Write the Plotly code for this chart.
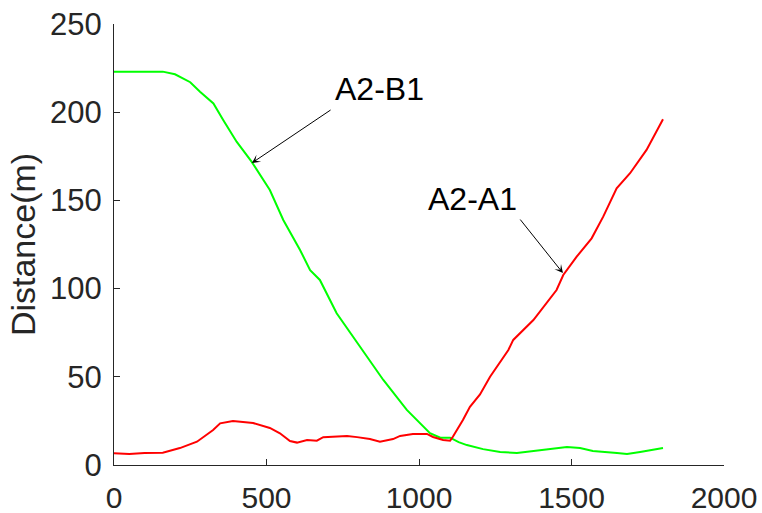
import plotly.graph_objects as go

# A2-B1 (green)
b1_t = [0, 100, 160, 200, 250, 282, 326, 358, 402, 451, 511, 555, 610, 643, 675, 730,
        807, 883, 960, 1036, 1070, 1102, 1130, 1157, 1210, 1266, 1321, 1397, 1485,
        1528, 1570, 1649, 1682, 1725, 1767, 1790, 1800]
b1_d = [223, 223, 223, 221.5, 217, 211.6, 205, 195.6, 183.3, 172, 155.9, 138.9, 121.9,
        110.5, 104.9, 86, 67.1, 48.2, 31.2, 18, 15.5, 15.5, 13, 11.3, 9, 7.4, 6.8, 8.5,
        10.2, 9.6, 7.9, 6.8, 6.2, 7.4, 8.5, 9.3, 9.6]

# A2-A1 (red)
a1_t = [0, 50, 100, 160, 216, 272, 325, 348, 390, 456, 511, 544, 577, 600, 633, 665, 686,
        764, 797, 839, 872, 915, 938, 980, 1026, 1046, 1079, 1102, 1111, 1144, 1167, 1200,
        1233, 1293, 1309, 1375, 1451, 1473, 1517, 1566, 1604, 1648, 1692, 1746, 1800]
a1_d = [6.6, 6.2, 6.8, 7, 9.6, 13.2, 19.8, 23.6, 25, 23.8, 21, 18, 13.6, 12.7, 14.2, 13.8,
        15.8, 16.5, 15.8, 14.7, 13.2, 14.7, 16.5, 17.6, 17.6, 15.9, 14.2, 13.8, 16, 25.5,
        33, 40, 50, 65.2, 70.9, 82.2, 99.2, 107.7, 118.1, 128.5, 140.8, 156.9, 165.4,
        178.6, 196]

x_ticks = [0, 500, 1000, 1500, 2000]
y_ticks = [0, 50, 100, 150, 200, 250]

fig = go.Figure()
fig.add_trace(go.Scatter(x=b1_t, y=b1_d, mode="lines", line=dict(color="#00ff00", width=2),
                         name="A2-B1", showlegend=False))
fig.add_trace(go.Scatter(x=a1_t, y=a1_d, mode="lines", line=dict(color="#ff0000", width=2),
                         name="A2-A1", showlegend=False))

font = "Liberation Sans, Arial, sans-serif"
axcol = "#262626"

# arrows
fig.add_annotation(x=452, y=171.2, ax=715, ay=201.8, xref="x", yref="y", axref="x", ayref="y",
                   text="", showarrow=True, arrowhead=3, arrowsize=1.4, arrowwidth=1,
                   arrowcolor="black")
fig.add_annotation(x=1472, y=108.8, ax=1328, ay=140, xref="x", yref="y", axref="x", ayref="y",
                   text="", showarrow=True, arrowhead=3, arrowsize=1.4, arrowwidth=1,
                   arrowcolor="black")
# labels
fig.add_annotation(x=872, y=213, xref="x", yref="y", text="A2-B1", showarrow=False,
                   font=dict(family=font, size=32, color="black"))
fig.add_annotation(x=1174, y=150.8, xref="x", yref="y", text="A2-A1", showarrow=False,
                   font=dict(family=font, size=32, color="black"))

fig.update_layout(
    width=762, height=513,
    margin=dict(l=114, r=38, t=24, b=48),
    plot_bgcolor="white", paper_bgcolor="white",
    font=dict(family=font, color=axcol),
)
fig.update_xaxes(range=[0, 2000], tickvals=x_ticks, ticktext=[str(v) for v in x_ticks],
                 showgrid=False, zeroline=False, showline=True, linecolor=axcol, linewidth=1,
                 ticks="inside", ticklen=6, tickcolor=axcol, tickfont=dict(size=30, color=axcol),
                 ticklabelstandoff=6, automargin=False, mirror=False)
fig.update_yaxes(range=[0, 250], tickvals=y_ticks, ticktext=[str(v) for v in y_ticks],
                 showgrid=False, zeroline=False, showline=True, linecolor=axcol, linewidth=1,
                 ticks="inside", ticklen=6, tickcolor=axcol, tickfont=dict(size=31, color=axcol),
                 ticklabelstandoff=5, automargin=False,
                 title=dict(text="Distance(m)", font=dict(size=34, color=axcol), standoff=4),
                 mirror=False)

fig.write_html("out.html", config={"displayModeBar": False},
               post_script="document.body.style.margin='0';")
